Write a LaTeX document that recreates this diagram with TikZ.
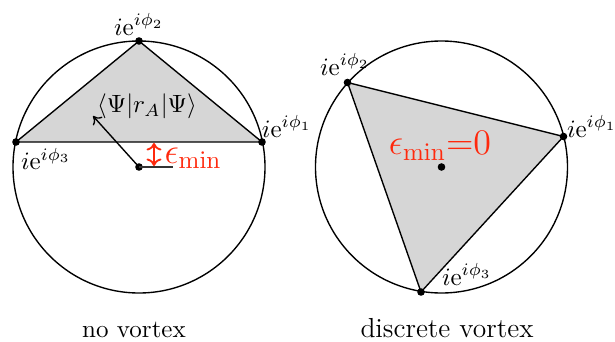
\documentclass[tikz,border=0pt]{standalone}
\usetikzlibrary{arrows.meta}
\definecolor{epsred}{rgb}{1,0.16,0.05}
\definecolor{trifill}{gray}{0.84}
\begin{document}
\begin{tikzpicture}[x=0.4pt,y=-0.4pt,
  ring/.style={draw=black,line width=0.55pt},
  tri/.style={draw=black,fill=trifill,line width=0.55pt,line join=round},
  dot/.style={fill=black},
  lab/.style={inner sep=1pt,font=\normalsize},
  captext/.style={anchor=base,font=\normalsize}]
\useasboundingbox (0,0) rectangle (615,341);
% left
\coordinate (Lc) at (139,167);
\coordinate (La) at (262,142);
\coordinate (Lb) at (139,41);
\coordinate (Ld) at (16,142);
\draw[ring] (Lc) circle (126);
\draw[tri] (La) -- (Lb) -- (Ld) -- cycle;
\foreach \p in {La,Lb,Ld,Lc} \fill[dot] (\p) circle (3.8);
\node[lab,anchor=south] (Llb) at (139,38) {$i\mathrm{e}^{i\phi_2}$};
\node[lab,anchor=south west] (Lla) at (259,140) {$i\mathrm{e}^{i\phi_1}$};
\node[lab,anchor=north west] (Lld) at (18,145) {$i\mathrm{e}^{i\phi_3}$};
\node[lab] (psi) at (147,106) {$\langle\Psi|r_A|\Psi\rangle$};
\coordinate (tip) at (93,116);
\draw[-{To[length=3pt,width=5pt]},line width=0.55pt] (Lc) -- (tip);
\coordinate (Lh) at (173,167);
\draw[line width=0.55pt,black!80] (Lc) -- (Lh);
\coordinate (e1) at (154,143);
\coordinate (e2) at (154,166);
\draw[epsred,line width=0.75pt,{To[length=3pt,width=6pt]}-{To[length=3pt,width=6pt]}] (e1) -- (e2);
\node[anchor=base west,inner sep=0pt,text=epsred,font=\Large] (eps) at (164,163) {$\epsilon_{\min}$};
% right
\coordinate (Rc) at (441.5,167);
\coordinate (Ra) at (563.5,136.5);
\coordinate (Rb) at (347.5,82.5);
\coordinate (Rd) at (421,292);
\draw[ring] (Rc) circle (126);
\draw[tri] (Ra) -- (Rb) -- (Rd) -- cycle;
\foreach \p in {Ra,Rb,Rd,Rc} \fill[dot] (\p) circle (3.8);
\node[lab,anchor=south] (Rlb) at (345,78) {$i\mathrm{e}^{i\phi_2}$};
\node[lab,anchor=south west] (Rla) at (564,140) {$i\mathrm{e}^{i\phi_1}$};
\node[lab,anchor=south west] (Rld) at (439,288) {$i\mathrm{e}^{i\phi_3}$};
\node[inner sep=0pt,text=epsred,font=\Large] (eps0) at (440,146) {$\epsilon_{\min}{=}0$};
% captions
\node[captext] (c1) at (134,337) {no vortex};
\node[captext,font=\fontsize{11}{13}\selectfont] (c2) at (447,337) {discrete vortex};
\end{tikzpicture}
\end{document}
